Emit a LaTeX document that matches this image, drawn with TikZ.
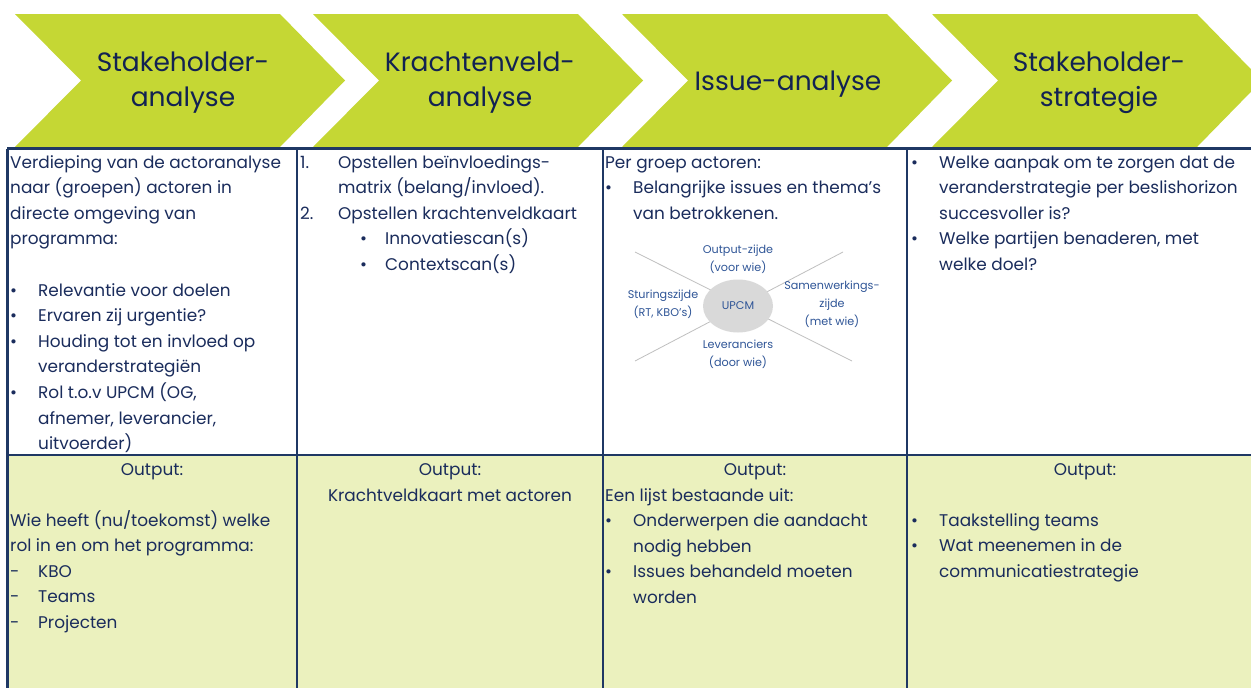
\documentclass[tikz,border=0pt]{standalone}
\usepackage{fontspec}
\setmainfont{Poppins}
\usetikzlibrary{shapes.geometric}
\definecolor{chev}{RGB}{197,215,52}
\definecolor{navy}{RGB}{18,34,82}
\definecolor{txt}{RGB}{26,44,92}
\definecolor{gridc}{RGB}{31,56,100}
\definecolor{pale}{RGB}{235,241,190}
\definecolor{diag}{RGB}{47,85,151}
\definecolor{ellc}{RGB}{217,217,217}
\definecolor{rayc}{RGB}{191,191,191}
\newcommand\bul{\makebox[28pt][l]{\textbullet}}
\newcommand\ind{\hspace*{28pt}}
\newcommand\dsh{\makebox[28pt][l]{-}}
\newcommand\cellfont{\fontsize{16.9}{25.6}\selectfont}
\newcommand\headfont{\fontsize{26.5}{35}\selectfont}
\begin{document}
\begin{tikzpicture}[x=1pt,y=-1pt,
  chevron/.style={fill=chev, draw=none},
  head/.style={text=navy, font=\headfont, anchor=base, inner sep=0},
  cell/.style={text=txt, anchor=base west, inner sep=0, font=\cellfont},
  outp/.style={text=txt, anchor=base, inner sep=0, font=\cellfont},
  lbl/.style={text=diag, font=\fontsize{11.2}{18}\selectfont, align=center, inner sep=0},
  gridline/.style={draw=gridc, line width=2.2pt},
  ray/.style={draw=rayc, line width=0.8pt}]
\useasboundingbox (0,0) rectangle (1251,688);
\clip (0,0) rectangle (1251,688);
\fill[white] (0,0) rectangle (1251,688);
% chevrons
\foreach \s in {15,313,622,932}{
  \fill[chevron] (\s,14) -- ++(265,0) -- ++(65,66.5) -- ++(-65,66.5) -- ++(-265,0) -- ++(66,-66.5) -- cycle;
}
\node[head] (h1) at (183,71) {\begin{tabular}[t]{@{}c@{}}Stakeholder-\\analyse\end{tabular}};
\node[head] (h2) at (480,71) {\begin{tabular}[t]{@{}c@{}}Krachtenveld-\\analyse\end{tabular}};
\node[head] (h3) at (788,90) {Issue-analyse};
\node[head] (h4) at (1099,71) {\begin{tabular}[t]{@{}c@{}}Stakeholder-\\strategie\end{tabular}};
% table
\fill[pale] (7,455) rectangle (1262,700);
\draw[gridline] (7,148.5) -- (1262,148.5);
\draw[gridline] (7,455) -- (1262,455);
\foreach \x in {7.5,297,603,907}{\draw[gridline] (\x,148.5) -- (\x,700);}
% top row
\node[cell] (c1) at (10,168) {\begin{tabular}[t]{@{}l@{}}
Verdieping van de actoranalyse\\
naar (groepen) actoren in\\
directe omgeving van\\
programma:\\
\\
\bul Relevantie voor doelen\\
\bul Ervaren zij urgentie?\\
\bul Houding tot en invloed op\\
\ind veranderstrategiën\\
\bul Rol t.o.v UPCM (OG,\\
\ind afnemer, leverancier,\\
\ind uitvoerder)\end{tabular}};
\node[cell] (c2) at (300,168) {\begin{tabular}[t]{@{}l@{}}
\makebox[38pt][l]{1.}Opstellen beïnvloedings-\\
\hspace*{38pt}matrix (belang/invloed).\\
\makebox[38pt][l]{2.}Opstellen krachtenveldkaart\\
\hspace*{60pt}\makebox[25pt][l]{\textbullet}Innovatiescan(s)\\
\hspace*{60pt}\makebox[25pt][l]{\textbullet}Contextscan(s)\end{tabular}};
\node[cell] (c3) at (605,168) {\begin{tabular}[t]{@{}l@{}}
Per groep actoren:\\
\bul Belangrijke issues en thema’s\\
\ind van betrokkenen.\end{tabular}};
\node[cell] (c4) at (911,168) {\begin{tabular}[t]{@{}l@{}}
\bul Welke aanpak om te zorgen dat de\\
\ind veranderstrategie per beslishorizon\\
\ind succesvoller is?\\
\bul Welke partijen benaderen, met\\
\ind welke doel?\end{tabular}};
% diagram
\coordinate (ctr) at (738,306);
\coordinate (ra) at (635,252);
\coordinate (rb) at (852,361);
\coordinate (rc) at (635,361);
\coordinate (rd) at (843,252);
\draw[ray] (ra) -- (rb);
\draw[ray] (rc) -- (rd);
\node[ellipse, fill=ellc, minimum width=70pt, minimum height=53pt, inner sep=0] (upcm) at (ctr) {};
\node[lbl] (lupcm) at (738,306) {UPCM};
\node[lbl] (lout) at (738,259) {Output-zijde\\(voor wie)};
\node[lbl] (lstu) at (663,304) {Sturingszijde\\(RT, KBO’s)};
\node[lbl] (lsam) at (832,304) {Samenwerkings-\\zijde\\(met wie)};
\node[lbl] (llev) at (738,354) {Leveranciers\\(door wie)};
% bottom row
\node[outp] (o1) at (152,475) {Output:};
\node[outp] (o2) at (450,475) {Output:};
\node[outp] (o3) at (755,475) {Output:};
\node[outp] (o4) at (1085,475) {Output:};
\node[cell] (b1) at (10,526) {\begin{tabular}[t]{@{}l@{}}
Wie heeft (nu/toekomst) welke\\
rol in en om het programma:\\
\dsh KBO\\
\dsh Teams\\
\dsh Projecten\end{tabular}};
\node[outp] (b2) at (450,501) {Krachtveldkaart met actoren};
\node[cell] (b3) at (605,501) {\begin{tabular}[t]{@{}l@{}}
Een lijst bestaande uit:\\
\bul Onderwerpen die aandacht\\
\ind nodig hebben\\
\bul Issues behandeld moeten\\
\ind worden\end{tabular}};
\node[cell] (b4) at (911,526) {\begin{tabular}[t]{@{}l@{}}
\bul Taakstelling teams\\
\bul Wat meenemen in de\\
\ind communicatiestrategie\end{tabular}};
\end{tikzpicture}
\end{document}
